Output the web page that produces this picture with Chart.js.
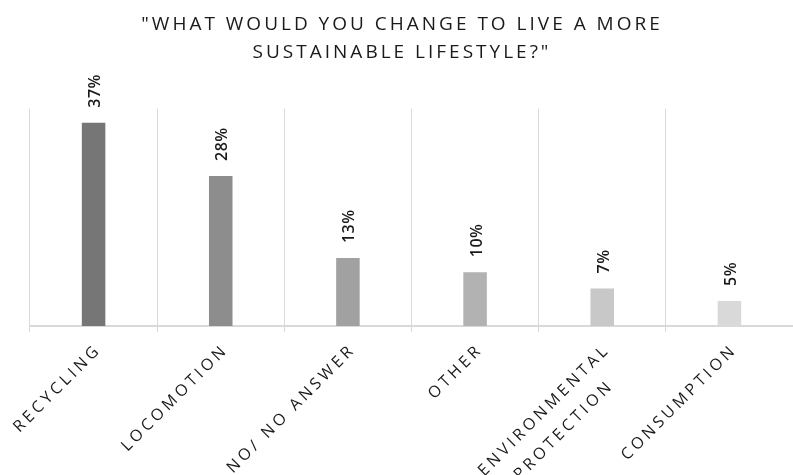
<!DOCTYPE html>
<html>
<head>
<meta charset="utf-8">
<script src="https://cdn.jsdelivr.net/npm/chart.js@4/dist/chart.umd.min.js"></script>
<style>
  html, body { margin: 0; padding: 0; background: #ffffff; }
  #wrap { width: 793px; height: 475px; position: relative; }
</style>
</head>
<body>
<div id="wrap"><canvas id="c"></canvas></div>
<script>
const titleLines = ['"WHAT WOULD YOU CHANGE TO LIVE A MORE', 'SUSTAINABLE LIFESTYLE?"'];
const categories = [
  ['RECYCLING'],
  ['LOCOMOTION'],
  ['NO/ NO ANSWER'],
  ['OTHER'],
  ['ENVIRONMENTAL', 'PROTECTION'],
  ['CONSUMPTION']
];
// bar heights (percent)
const values = [37.4, 27.6, 12.5, 9.9, 6.9, 4.6];
// printed data labels
const valueLabelsText = ['37%', '28%', '13%', '10%', '7%', '5%'];
const barColors = ['#767676', '#8d8d8d', '#a1a1a1', '#b2b2b2', '#c8c8c8', '#d9d9d9'];
const yMax = 40;

const spacingPlugin = {
  id: 'spacing',
  beforeDraw(chart) {
    chart.ctx.letterSpacing = '3px';
  }
};

const valueLabels = {
  id: 'valueLabels',
  afterDatasetsDraw(chart) {
    const ctx = chart.ctx;
    const meta = chart.getDatasetMeta(0);
    ctx.save();
    ctx.letterSpacing = '0.5px';
    ctx.font = '600 16px "Open Sans"';
    ctx.fillStyle = '#1a1a1a';
    ctx.textAlign = 'left';
    ctx.textBaseline = 'middle';
    meta.data.forEach((bar, i) => {
      ctx.save();
      ctx.translate(bar.x + 2, bar.y - 15);
      ctx.rotate(-Math.PI / 2);
      ctx.fillText(valueLabelsText[i], 0, 0);
      ctx.restore();
    });
    ctx.restore();
  }
};

const xLabels = {
  id: 'xLabels',
  afterDraw(chart) {
    const ctx = chart.ctx;
    const xs = chart.scales.x;
    const sp = 3.6;
    const LH = 28;
    ctx.save();
    ctx.letterSpacing = sp + 'px';
    ctx.font = '16px "Open Sans"';
    ctx.fillStyle = '#1a1a1a';
    ctx.textAlign = 'center';
    ctx.textBaseline = 'top';
    categories.forEach((lines, i) => {
      const x = xs.getPixelForTick(i) - 3;
      const y = chart.chartArea.bottom + 18;
      const widths = lines.map(l => ctx.measureText(l).width - sp);
      const W = Math.max(...widths);
      ctx.save();
      ctx.translate(x, y);
      ctx.rotate(-Math.PI / 4);
      lines.forEach((l, k) => {
        ctx.fillText(l, -W / 2 + sp / 2, k * LH);
      });
      ctx.restore();
    });
    ctx.restore();
  }
};

new Chart(document.getElementById('c'), {
  type: 'bar',
  data: {
    labels: categories,
    datasets: [{
      data: values,
      backgroundColor: barColors,
      borderWidth: 0,
      categoryPercentage: 1,
      barPercentage: 0.185
    }]
  },
  options: {
    responsive: true,
    maintainAspectRatio: false,
    animation: false,
    layout: { padding: { left: 11, right: 0, top: 0, bottom: 143 } },
    plugins: {
      legend: { display: false },
      tooltip: { enabled: false },
      title: {
        display: true,
        text: titleLines,
        color: '#1a1a1a',
        font: { family: '"Open Sans"', size: 19, weight: 'normal', lineHeight: 1.49 },
        padding: { top: 10, bottom: 42 }
      }
    },
    scales: {
      x: {
        offset: true,
        grid: { display: true, offset: true, color: '#d9d9d9', lineWidth: 1, drawTicks: true, tickLength: 6 },
        border: { display: true, color: '#d9d9d9', width: 2 },
        ticks: { display: false }
      },
      y: {
        display: true,
        min: 0,
        max: yMax,
        grid: { display: false, drawTicks: false },
        border: { display: false },
        ticks: { display: false },
        afterFit(scale) { scale.width = 19; }
      }
    }
  },
  plugins: [spacingPlugin, valueLabels, xLabels]
});
</script>
</body>
</html>
